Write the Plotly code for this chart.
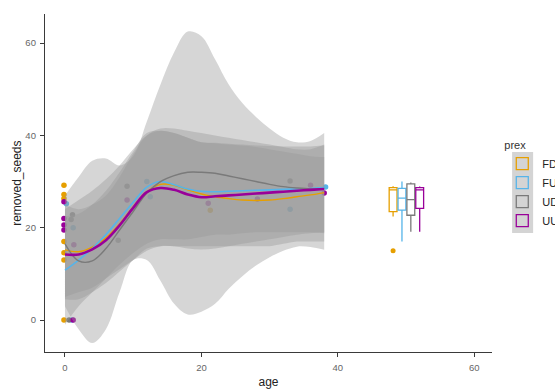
import plotly.graph_objects as go

# ---------------- data ----------------
groups = ["FD", "FU", "UD", "UU"]
colors = {"FD": "#E69F00", "FU": "#56B4E9", "UD": "#7a7a7a", "UU": "#990099"}

# raw points (age, removed_seeds)
pts_age = {
    "FD": [-0.15, -0.15, -0.15, -0.15, -0.15, -0.15, -0.15, 21.3],
    "FU": [0.2, 1.2, 1.0, 12.0, 12.5, 33.0, 38.2],
    "UD": [1.1, 0.9, 0.6, 7.8, 9.1, 33.0],
    "UU": [-0.15, -0.15, -0.15, -0.15, 1.3, 1.2, 9.1, 21.0, 28.2, 36.0, 38.0],
}
pts_val = {
    "FD": [29.2, 27.2, 26.3, 17.0, 14.6, 13.0, 0.0, 23.8],
    "FU": [25.2, 20.0, 0.0, 30.0, 26.7, 24.0, 28.8],
    "UD": [22.8, 21.8, 0.0, 17.3, 29.0, 30.1],
    "UU": [25.6, 22.0, 20.6, 19.5, 16.3, 0.0, 26.0, 25.3, 26.2, 29.2, 27.5],
}

# smoothed fits and confidence limits on an age grid
ages = [0, 2, 4, 6, 8, 10, 12, 14, 16, 18, 20, 22, 24, 26, 28, 30, 32, 34, 36, 38]
fit = {
    "FD": [15.2, 14.8, 15.8, 17.8, 20.8, 24.5, 27.8, 29.4, 29.2, 28.2, 27.3, 26.7, 26.3, 26.0, 25.9, 26.0, 26.3, 26.7, 27.1, 27.6],
    "FU": [10.8, 13.0, 15.5, 18.5, 22.0, 25.5, 28.8, 30.0, 29.3, 28.4, 27.9, 27.8, 27.9, 28.0, 28.1, 28.2, 28.3, 28.4, 28.5, 28.7],
    "UD": [16.5, 12.8, 12.8, 15.5, 19.5, 23.5, 27.5, 30.0, 31.3, 32.0, 32.0, 31.8, 31.2, 30.6, 30.0, 29.4, 28.9, 28.6, 28.4, 28.4],
    "UU": [14.2, 14.2, 15.3, 17.3, 20.5, 24.3, 27.7, 28.6, 28.2, 27.2, 26.6, 26.8, 27.0, 27.2, 27.4, 27.6, 27.8, 28.0, 28.2, 28.4],
}
lower = {
    "FD": [5, 6, 7, 9, 11, 13, 15, 16, 16, 16, 16, 16, 16, 16, 16, 16, 16.5, 17, 17, 17],
    "FU": [-1, 3, 6, 9, 12, 14.5, 16.5, 17.5, 17.5, 17.5, 18, 18.5, 18.5, 18.8, 19, 19, 19, 19, 19, 18.8],
    "UD": [3, -2, -5, -2, 6, 13, 13, 8.5, 3.5, 1.2, 1.8, 3.5, 6.8, 9.5, 11.8, 13.6, 15, 15.9, 15.8, 15.2],
    "UU": [4.5, 4.5, 6, 8, 10.5, 13, 15.5, 16, 16, 15.5, 15.3, 15.5, 16, 16.5, 17, 17.5, 18, 18.5, 18.8, 19],
}
upper = {
    "FD": [25, 24, 25, 27, 31, 36, 40, 41.5, 41.5, 41, 40.5, 40, 39.5, 39, 38.5, 38, 37.5, 37, 37, 38],
    "FU": [22.5, 23, 25, 28, 32, 36.5, 40.5, 41, 40.5, 39.5, 38.5, 38.3, 38, 37.8, 37.5, 37, 36.5, 36, 35.5, 35.3],
    "UD": [27, 31, 34.5, 35, 33.5, 35.5, 43, 51, 58, 62.5, 61.5, 56.5, 51, 47, 44, 41.5, 39.5, 38.5, 38.8, 40.5],
    "UU": [24, 26, 28, 30.5, 33.5, 37, 40, 41, 40.5, 39.5, 38.5, 38.4, 38.2, 38, 37.8, 37.7, 37.6, 37.6, 37.6, 37.8],
}

# boxplot summary (placed at age ~50)
box_x = [48.1, 49.4, 50.7, 52.0]
box_lowerfence = [22.4, 17.0, 19.1, 19.1]
box_q1 = [23.5, 23.8, 22.7, 24.2]
box_median = [28.2, 26.4, 26.1, 28.2]
box_q3 = [28.7, 28.5, 29.5, 28.7]
box_upperfence = [29.0, 30.0, 29.8, 28.9]
outlier_group = ["FD"]
outlier_x = [48.1]
outlier_y = [15.0]

# ---------------- figure ----------------
fig = go.Figure()

# points (drawn first, ribbons on top)
for g in groups:
    fig.add_trace(go.Scatter(
        x=pts_age[g], y=pts_val[g], mode="markers",
        marker=dict(size=5.5, color=colors[g]), showlegend=False, hoverinfo="skip"))

# ribbons
band_fill = "rgba(153,153,153,0.4)"
for g in groups:
    fig.add_trace(go.Scatter(
        x=ages, y=lower[g], mode="lines", line=dict(width=0, shape="spline", smoothing=1.0),
        showlegend=False, hoverinfo="skip"))
    fig.add_trace(go.Scatter(
        x=ages, y=upper[g], mode="lines", line=dict(width=0, shape="spline", smoothing=1.0),
        fill="tonexty", fillcolor=band_fill, showlegend=False, hoverinfo="skip"))

# fitted lines
line_w = {"FD": 1.4, "FU": 1.6, "UD": 1.4, "UU": 2.6}
for g in groups:
    fig.add_trace(go.Scatter(
        x=ages, y=fit[g], mode="lines",
        line=dict(color=colors[g], width=line_w[g], shape="spline", smoothing=1.0),
        showlegend=False, hoverinfo="skip"))

# boxes
for i, g in enumerate(groups):
    fig.add_trace(go.Box(
        x=[box_x[i]], q1=[box_q1[i]], median=[box_median[i]], q3=[box_q3[i]],
        lowerfence=[box_lowerfence[i]], upperfence=[box_upperfence[i]],
        name=g, width=1.15, whiskerwidth=0,
        line=dict(color=colors[g], width=1.3),
        fillcolor="rgba(255,255,255,0)", boxpoints=False, showlegend=True))

for i, g in enumerate(outlier_group):
    fig.add_trace(go.Scatter(
        x=[outlier_x[i]], y=[outlier_y[i]], mode="markers",
        marker=dict(size=5, color=colors[g]), showlegend=False, hoverinfo="skip"))

# legend key background (ggplot-style grey keys)
fig.add_shape(type="rect", xref="paper", yref="paper",
              x0=1.045, x1=1.092, y0=0.352, y1=0.592,
              fillcolor="#d4d4d4", line=dict(width=0), layer="below")

# y-axis title as annotation (ggplot-like placement)
fig.add_annotation(text="removed_seeds", xref="paper", yref="paper",
                   x=-0.063, y=0.5, xanchor="center", yanchor="middle",
                   textangle=-90, showarrow=False,
                   font=dict(size=12, color="#222", family="Liberation Sans, Arial, sans-serif"))

axis_common = dict(
    showgrid=False, zeroline=False, showline=True, linecolor="#3a3a3a", linewidth=1.3,
    ticks="outside", ticklen=4, tickcolor="#3a3a3a", tickwidth=1, automargin=False,
    ticklabelstandoff=2,
    tickfont=dict(size=9.5, color="#666666", family="Liberation Sans, Arial, sans-serif"),
)

fig.update_layout(
    width=555, height=391,
    margin=dict(l=45, r=63, t=14, b=39),
    plot_bgcolor="white", paper_bgcolor="white",
    font=dict(family="Liberation Sans, Arial, sans-serif", color="#222"),
    xaxis=dict(range=[-2.93, 62.6], tickvals=[0, 20, 40, 60],
               title=dict(text="age", font=dict(size=12, color="#222"), standoff=6), **axis_common),
    yaxis=dict(range=[-6.93, 66.3], tickvals=[0, 20, 40, 60], **axis_common),
    legend=dict(
        title=dict(text="prex", font=dict(size=11, color="#333")),
        xref="container", yref="container",
        x=0.905, y=0.655, xanchor="left", yanchor="top",
        traceorder="normal",
        font=dict(size=11, color="#222"), bgcolor="rgba(0,0,0,0)",
        tracegroupgap=0),
    boxmode="overlay",
)

fig.write_html("out.html")
